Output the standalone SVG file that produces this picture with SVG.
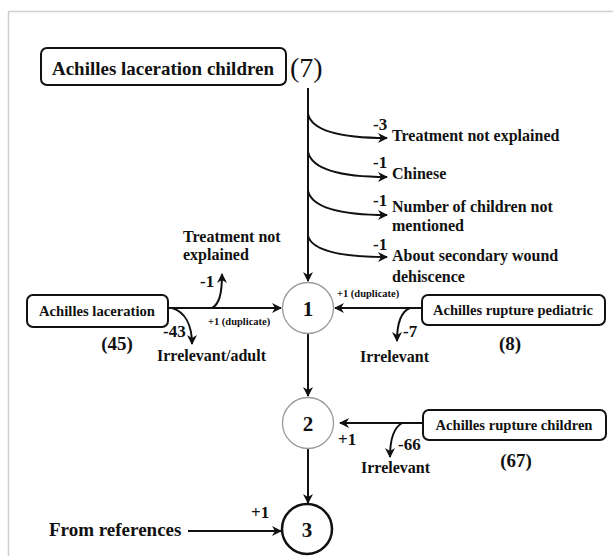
<svg xmlns="http://www.w3.org/2000/svg" width="613" height="556" viewBox="0 0 613 556">
<style>
text{font-family:"Liberation Serif","Times New Roman",serif;font-weight:bold;fill:#111}
.box{fill:#fff;stroke:#111;stroke-width:2}
.ln{fill:none;stroke:#111;stroke-width:2}
.lbl{font-size:16px}
.num{font-size:17px}
.bx{font-size:14.5px}
.cnt{font-size:19px}
.sm{font-size:10.5px}
.cn{font-size:21px}
</style>
<defs>
<marker id="ah" viewBox="0 0 10 10" refX="9" refY="5" markerWidth="5" markerHeight="5" orient="auto" markerUnits="strokeWidth">
<path d="M0,0 L10,5 L0,10 L3,5 z" fill="#111"/>
</marker>
</defs>
<rect x="8.5" y="11.5" width="620" height="560" fill="none" stroke="#cfcfcf" stroke-width="1.5"/>

<g id="connectors">
<path class="ln" d="M308,88 L308,281" marker-end="url(#ah)"/>
<path class="ln" d="M308,114 C312,131 340,138 387,138" marker-end="url(#ah)"/>
<path class="ln" d="M308,152 C312,169 340,177 387,177" marker-end="url(#ah)"/>
<path class="ln" d="M308,191 C312,207 340,215 387,215" marker-end="url(#ah)"/>
<path class="ln" d="M308,236 C312,250 340,257 387,257" marker-end="url(#ah)"/>
<path class="ln" d="M168,308 L281,308" marker-end="url(#ah)"/>
<path class="ln" d="M212,308 C219,304 222,295 222,274" marker-end="url(#ah)"/>
<path class="ln" d="M172,308 C185,312 192,325 192,344" marker-end="url(#ah)"/>
<path class="ln" d="M422,308 L335,308" marker-end="url(#ah)"/>
<path class="ln" d="M410,308 C400,312 397,325 397,341" marker-end="url(#ah)"/>
<path class="ln" d="M308,334 L308,396" marker-end="url(#ah)"/>
<path class="ln" d="M423,423 L340,423" marker-end="url(#ah)"/>
<path class="ln" d="M402,423 C393,428 390,440 390,457" marker-end="url(#ah)"/>
<path class="ln" d="M308,449 L308,503" marker-end="url(#ah)"/>
<path class="ln" d="M188,531 L281,531" marker-end="url(#ah)"/>
</g>

<g id="top">
<rect class="box" x="41" y="48" width="245" height="37" rx="6"/>
<text x="163" y="75" font-size="19" text-anchor="middle" textLength="222" lengthAdjust="spacingAndGlyphs">Achilles laceration children</text>
<text x="290" y="77" font-size="28" style="font-weight:normal">(7)</text>
</g>

<g id="excl-top">
<text class="num" x="373" y="130">-3</text>
<text class="lbl" x="392" y="141">Treatment not explained</text>
<text class="num" x="373" y="168">-1</text>
<text class="lbl" x="392" y="179">Chinese</text>
<text class="num" x="373" y="206">-1</text>
<text class="lbl" x="392" y="212">Number of children not</text>
<text class="lbl" x="392" y="231">mentioned</text>
<text class="num" x="373" y="250">-1</text>
<text class="lbl" x="392" y="261">About secondary wound</text>
<text class="lbl" x="392" y="282">dehiscence</text>
</g>

<g id="left">
<rect class="box" x="27" y="295" width="141" height="32" rx="6"/>
<text class="bx" x="97" y="316" text-anchor="middle" textLength="116" lengthAdjust="spacingAndGlyphs">Achilles laceration</text>
<text class="cnt" x="117" y="350" text-anchor="middle">(45)</text>
<text class="lbl" x="183" y="242">Treatment not</text>
<text class="lbl" x="183" y="260">explained</text>
<text class="num" x="200" y="287">-1</text>
<text class="num" x="163" y="337">-43</text>
<text class="lbl" x="157" y="361">Irrelevant/adult</text>
<text class="sm" x="208" y="325">+1 (duplicate)</text>
</g>

<g id="right">
<rect class="box" x="422" y="295" width="183" height="30" rx="6"/>
<text class="bx" x="513" y="315" text-anchor="middle" textLength="160" lengthAdjust="spacingAndGlyphs">Achilles rupture pediatric</text>
<text class="cnt" x="510" y="350" text-anchor="middle">(8)</text>
<text class="sm" x="337" y="297">+1 (duplicate)</text>
<text class="num" x="403" y="337">-7</text>
<text class="lbl" x="360" y="362">Irrelevant</text>
</g>

<g id="children">
<rect class="box" x="423" y="410" width="183" height="30" rx="6"/>
<text class="bx" x="514" y="430" text-anchor="middle" textLength="157" lengthAdjust="spacingAndGlyphs">Achilles rupture children</text>
<text class="cnt" x="516" y="467" text-anchor="middle">(67)</text>
<text class="num" x="338" y="445">+1</text>
<text class="num" x="398" y="450">-66</text>
<text class="lbl" x="361" y="473">Irrelevant</text>
</g>

<g id="n1">
<circle cx="308" cy="308" r="25.5" fill="#fff" stroke="#999" stroke-width="1.3"/>
<text class="cn" x="308" y="315.5" text-anchor="middle">1</text>
</g>
<g id="n2">
<circle cx="308" cy="423" r="25.5" fill="#fff" stroke="#999" stroke-width="1.3"/>
<text class="cn" x="308" y="430.5" text-anchor="middle">2</text>
</g>
<g id="n3">
<circle cx="307" cy="529" r="25" fill="#fff" stroke="#111" stroke-width="2.5"/>
<text class="cn" x="307" y="536.5" text-anchor="middle">3</text>
</g>

<g id="refs">
<text x="49" y="536" font-size="19">From references</text>
<text class="num" x="251" y="518">+1</text>
</g>
</svg>
